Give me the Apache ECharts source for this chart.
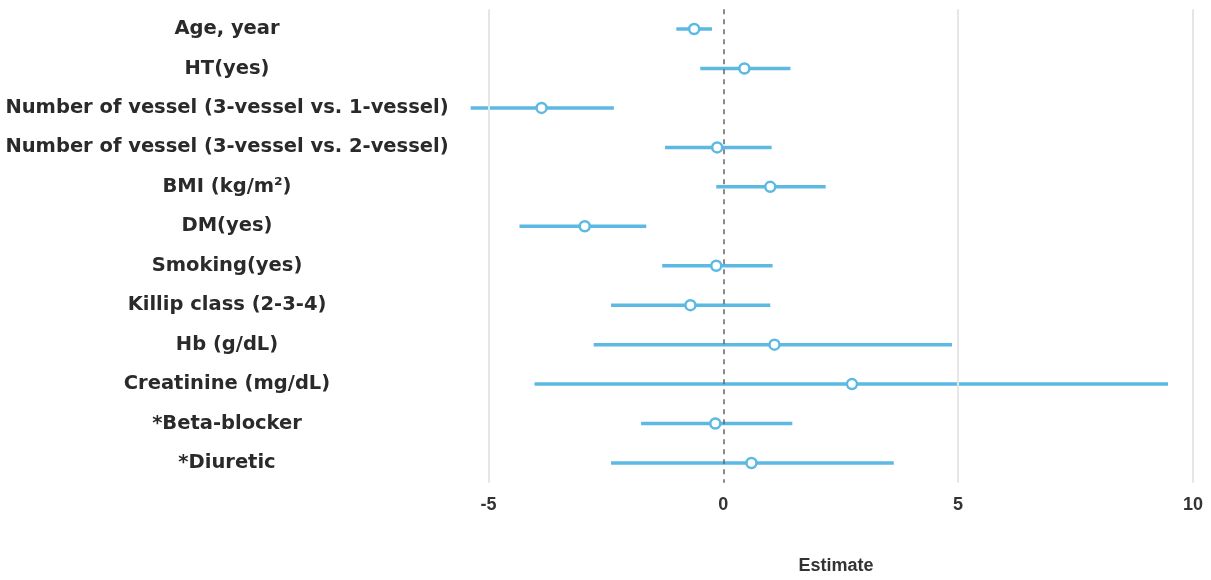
<!DOCTYPE html>
<html>
<head>
<meta charset="utf-8">
<script src="https://cdn.jsdelivr.net/npm/echarts@6/dist/echarts.min.js"></script>
<style>
html,body{margin:0;padding:0;background:#fff;}
#chart{width:1211px;height:580px;}
</style>
</head>
<body>
<div id="chart"></div>
<script>
const categories = [
  'Age, year',
  'HT(yes)',
  'Number of vessel (3-vessel vs. 1-vessel)',
  'Number of vessel (3-vessel vs. 2-vessel)',
  'BMI (kg/m²)',
  'DM(yes)',
  'Smoking(yes)',
  'Killip class (2-3-4)',
  'Hb (g/dL)',
  'Creatinine (mg/dL)',
  '*Beta-blocker',
  '*Diuretic'
];
const estimates = [-0.62, 0.45, -3.87, -0.13, 1.0, -2.95, -0.15, -0.7, 1.09, 2.74, -0.17, 0.6];
const lowerCI   = [-1.0, -0.49, -5.38, -1.24, -0.15, -4.34, -1.3, -2.39, -2.76, -4.02, -1.75, -2.39];
const upperCI   = [-0.24, 1.43, -2.33, 1.03, 2.18, -1.64, 1.05, 1.0, 4.87, 9.47, 1.47, 3.63];
const xTickLabels = [-5, 0, 5, 10];
const gridLineValues = [-5, 5, 10];
const refValue = 0;

const blue = '#5cb9e4';
const chart = echarts.init(document.getElementById('chart'));

const ciData = categories.map((c, i) => [lowerCI[i], upperCI[i], i]);
const pointData = categories.map((c, i) => [estimates[i], i]);

chart.setOption({
  animation: false,
  backgroundColor: '#fff',
  grid: { left: 465, right: 4, top: 9.3, bottom: 97.3, containLabel: false },
  xAxis: {
    type: 'value',
    min: -5.5,
    max: 10.3,
    interval: 0.5,
    name: 'Estimate',
    nameLocation: 'middle',
    nameGap: 74,
    nameTextStyle: { fontFamily: 'Liberation Sans', fontSize: 18, fontWeight: 'bold', color: '#333' },
    axisLine: { show: false },
    axisTick: { show: false },
    splitLine: { show: false },
    axisLabel: {
      margin: 13,
      fontFamily: 'Liberation Sans',
      fontSize: 18,
      fontWeight: 'bold',
      color: '#333',
      formatter: v => (xTickLabels.some(t => Math.abs(t - v) < 1e-9) ? String(Math.round(v)) : '')
    }
  },
  yAxis: {
    type: 'category',
    data: categories,
    inverse: true,
    axisLine: { show: false },
    axisTick: { show: false },
    splitLine: { show: false },
    axisLabel: {
      align: 'center',
      margin: 238,
      fontFamily: 'DejaVu Sans',
      fontSize: 19.5,
      fontWeight: 'bold',
      color: '#2a2a2a'
    }
  },
  series: [
    {
      type: 'scatter',
      z: 1,
      silent: true,
      data: pointData,
      symbolSize: 0,
      itemStyle: { opacity: 0 },
      markLine: {
        silent: true,
        symbol: 'none',
        label: { show: false },
        data: gridLineValues.map(v => ({ xAxis: v, lineStyle: { color: '#e6e6e6', width: 2, type: 'solid' } }))
      }
    },
    {
      type: 'custom',
      z: 2,
      data: ciData,
      encode: { x: [0, 1], y: 2 },
      renderItem: function (params, api) {
        const y = api.value(2);
        const p1 = api.coord([api.value(0), y]);
        const p2 = api.coord([api.value(1), y]);
        return {
          type: 'line',
          shape: { x1: p1[0], y1: p1[1], x2: p2[0], y2: p2[1] },
          style: { stroke: blue, lineWidth: 3.5 }
        };
      }
    },
    {
      type: 'scatter',
      z: 3,
      silent: true,
      data: pointData,
      symbolSize: 0,
      itemStyle: { opacity: 0 },
      markLine: {
        silent: true,
        symbol: 'none',
        label: { show: false },
        data: [{ xAxis: refValue, lineStyle: { color: '#666', width: 1.5, type: [5, 5] } }]
      }
    },
    {
      type: 'scatter',
      z: 4,
      data: pointData,
      symbol: 'circle',
      symbolSize: 10,
      itemStyle: { color: '#fff', borderColor: blue, borderWidth: 2.5, opacity: 1 }
    }
  ]
});
</script>
</body>
</html>
